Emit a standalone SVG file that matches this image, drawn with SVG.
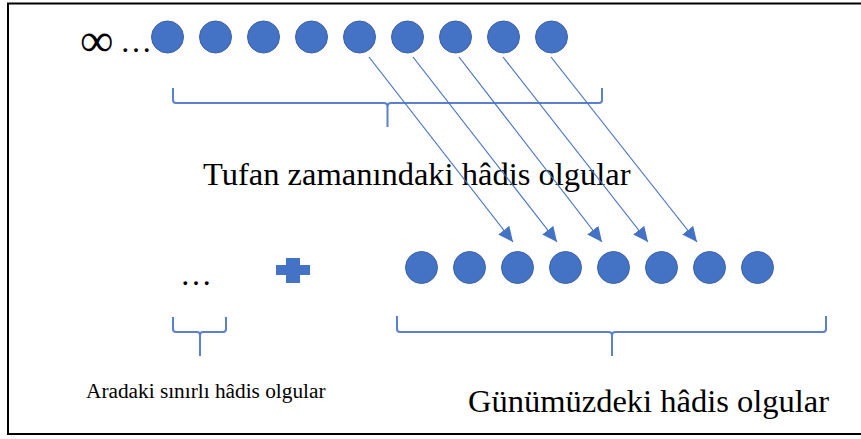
<svg xmlns="http://www.w3.org/2000/svg" width="861" height="439" viewBox="0 0 861 439">
<style>
.dot{fill:#4472C4;stroke:#3b62a8;stroke-width:1}
.brace{fill:none;stroke:#5b80cc;stroke-width:2;stroke-linejoin:round}
.arrow{stroke:#4472C4;stroke-width:1.2;fill:none}
.t{font-family:"Liberation Serif","Times New Roman",serif;fill:#000}
</style>
<defs>
<marker id="ah" markerUnits="userSpaceOnUse" markerWidth="16" markerHeight="14" refX="15" refY="7" orient="auto">
<path d="M0,0 L15,7 L0,14 z" fill="#4472C4"/>
</marker>
</defs>
<rect x="8" y="3.5" width="870" height="430.5" fill="#fff" stroke="#000" stroke-width="2"/>
<g id="top-row">
<text class="t" x="80" y="56" font-size="47">∞</text>
<text class="t" x="120" y="52" font-size="32">…</text>
<circle class="dot" cx="167.5" cy="37" r="16"/>
<circle class="dot" cx="215.5" cy="37" r="16"/>
<circle class="dot" cx="263.5" cy="37" r="16"/>
<circle class="dot" cx="311.5" cy="37" r="16"/>
<circle class="dot" cx="359.5" cy="37" r="16"/>
<circle class="dot" cx="407.5" cy="37" r="16"/>
<circle class="dot" cx="455.5" cy="37" r="16"/>
<circle class="dot" cx="503.5" cy="37" r="16"/>
<circle class="dot" cx="551.5" cy="37" r="16"/>
</g>
<g id="top-brace">
<path class="brace" d="M173,88 V100 Q173,103 176,103 H384 Q387.5,103 387.5,107 V127 M387.5,107 Q387.5,103 391,103 H599 Q602,103 602,100 V88"/>
<text class="t" x="203" y="185" font-size="32.5">Tufan zamanındaki hâdis olgular</text>
</g>
<g id="middle">
<text class="t" x="180" y="285" font-size="32">…</text>
<path d="M276,265 H310 V275 H276 Z M286,258 H300 V283 H286 Z" fill="#4472C4"/>
<path class="brace" d="M173,317 V329 Q173,332 176,332 H197 Q200,332 200,335 V356 M200,335 Q200,332 203,332 H223 Q226,332 226,329 V317"/>
<text class="t" x="86" y="398" font-size="21.3">Aradaki sınırlı hâdis olgular</text>
</g>
<g id="bottom-row">
<circle class="dot" cx="421.5" cy="267.5" r="16"/>
<circle class="dot" cx="469.5" cy="267.5" r="16"/>
<circle class="dot" cx="517.5" cy="267.5" r="16"/>
<circle class="dot" cx="565.5" cy="267.5" r="16"/>
<circle class="dot" cx="613.5" cy="267.5" r="16"/>
<circle class="dot" cx="661.5" cy="267.5" r="16"/>
<circle class="dot" cx="709.5" cy="267.5" r="16"/>
<circle class="dot" cx="757.5" cy="267.5" r="16"/>
<path class="brace" d="M397,316 V329 Q397,332 400,332 H608.5 Q612,332 612,335 V356 M612,335 Q612,332 615.5,332 H823 Q826,332 826,329 V316"/>
<text class="t" x="468" y="412" font-size="32.5">Günümüzdeki hâdis olgular</text>
</g>
<g id="connectors">
<line class="arrow" x1="369" y1="57" x2="513" y2="242" marker-end="url(#ah)"/>
<line class="arrow" x1="413" y1="57" x2="557" y2="242" marker-end="url(#ah)"/>
<line class="arrow" x1="459" y1="57" x2="602" y2="242" marker-end="url(#ah)"/>
<line class="arrow" x1="503" y1="57" x2="648" y2="242" marker-end="url(#ah)"/>
<line class="arrow" x1="551" y1="57" x2="697" y2="242" marker-end="url(#ah)"/>
</g>
</svg>
